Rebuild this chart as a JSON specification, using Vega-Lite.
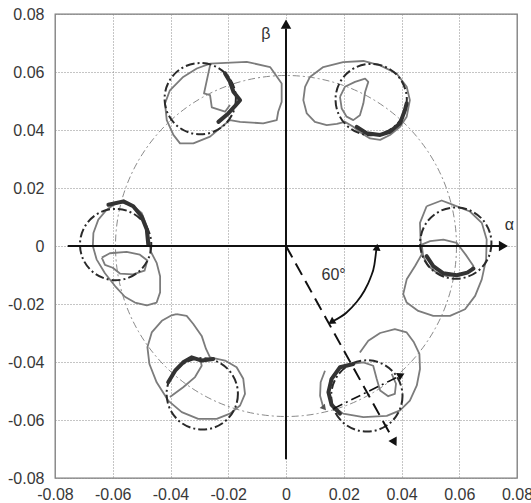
{
  "$schema": "https://vega.github.io/schema/vega-lite/v6.json",
  "width": 462,
  "height": 464,
  "autosize": "none",
  "padding": {"left": 55, "top": 14, "right": 14, "bottom": 25},
  "background": "white",
  "config": {
    "view": {"stroke": "#7a7a7a", "strokeWidth": 1.3},
    "axis": {"domain": false, "ticks": false, "grid": true, "gridDash": [1, 2], "gridColor": "#8a8a8a", "gridWidth": 1, "labelFont": "Liberation Sans", "labelFontSize": 16, "labelColor": "#383838"}
  },
  "datasets": {
    "traces": [
      {"g":"TLo","k":"o","i":1,"x":-0.0263,"y":0.0629},{"g":"TLo","k":"o","i":2,"x":-0.0136,"y":0.0635},{"g":"TLo","k":"o","i":3,"x":-0.0055,"y":0.0617},{"g":"TLo","k":"o","i":4,"x":-0.0015,"y":0.056},{"g":"TLo","k":"o","i":5,"x":-0.0015,"y":0.0497},{"g":"TLo","k":"o","i":6,"x":-0.0027,"y":0.0463},{"g":"TLo","k":"o","i":7,"x":-0.0032,"y":0.0434},{"g":"TLo","k":"o","i":8,"x":-0.0079,"y":0.0423},{"g":"TLo","k":"o","i":9,"x":-0.0159,"y":0.0428},{"g":"TLo","k":"o","i":10,"x":-0.0194,"y":0.0434},{"g":"TLo","k":"o","i":11,"x":-0.0223,"y":0.0411},{"g":"TLo","k":"o","i":12,"x":-0.0263,"y":0.0377},{"g":"TLo","k":"o","i":13,"x":-0.0321,"y":0.0354},{"g":"TLo","k":"o","i":14,"x":-0.0367,"y":0.0354},{"g":"TLo","k":"o","i":15,"x":-0.039,"y":0.0383},{"g":"TLo","k":"o","i":16,"x":-0.0413,"y":0.0434},{"g":"TLo","k":"o","i":17,"x":-0.0419,"y":0.0492},{"g":"TLo","k":"o","i":18,"x":-0.0402,"y":0.0537},{"g":"TLo","k":"o","i":19,"x":-0.0356,"y":0.0583},{"g":"TLo","k":"o","i":20,"x":-0.0309,"y":0.0612},{"g":"TLo","k":"o","i":21,"x":-0.0263,"y":0.0629},
      {"g":"TLi","k":"o","i":1,"x":-0.0263,"y":0.0623},{"g":"TLi","k":"o","i":2,"x":-0.0284,"y":0.0526},{"g":"TLi","k":"o","i":3,"x":-0.0263,"y":0.052},{"g":"TLi","k":"o","i":4,"x":-0.0257,"y":0.0478},{"g":"TLi","k":"o","i":5,"x":-0.0211,"y":0.0463},{"g":"TLi","k":"o","i":6,"x":-0.0194,"y":0.0486},
      {"g":"TLd","k":"d","i":1,"x":-0.0211,"y":0.0595},{"g":"TLd","k":"d","i":2,"x":-0.0194,"y":0.0566},{"g":"TLd","k":"d","i":3,"x":-0.0182,"y":0.0532},{"g":"TLd","k":"d","i":4,"x":-0.0159,"y":0.0503},{"g":"TLd","k":"d","i":5,"x":-0.0177,"y":0.0482},{"g":"TLd","k":"d","i":6,"x":-0.02,"y":0.0457},{"g":"TLd","k":"d","i":7,"x":-0.0234,"y":0.0428},
      {"g":"TRo","k":"o","i":1,"x":0.0083,"y":0.0583},{"g":"TRo","k":"o","i":2,"x":0.0129,"y":0.0617},{"g":"TRo","k":"o","i":3,"x":0.0198,"y":0.0634},{"g":"TRo","k":"o","i":4,"x":0.0268,"y":0.0638},{"g":"TRo","k":"o","i":5,"x":0.0326,"y":0.0623},{"g":"TRo","k":"o","i":6,"x":0.0383,"y":0.0595},{"g":"TRo","k":"o","i":7,"x":0.0418,"y":0.0549},{"g":"TRo","k":"o","i":8,"x":0.0429,"y":0.0503},{"g":"TRo","k":"o","i":9,"x":0.0418,"y":0.0446},{"g":"TRo","k":"o","i":10,"x":0.0395,"y":0.0411},{"g":"TRo","k":"o","i":11,"x":0.036,"y":0.0383},{"g":"TRo","k":"o","i":12,"x":0.0326,"y":0.0366},{"g":"TRo","k":"o","i":13,"x":0.0291,"y":0.0371},{"g":"TRo","k":"o","i":14,"x":0.0262,"y":0.0389},{"g":"TRo","k":"o","i":15,"x":0.0233,"y":0.0411},{"g":"TRo","k":"o","i":16,"x":0.0204,"y":0.0428},{"g":"TRo","k":"o","i":17,"x":0.0176,"y":0.0421},{"g":"TRo","k":"o","i":18,"x":0.0141,"y":0.0417},{"g":"TRo","k":"o","i":19,"x":0.01,"y":0.0428},{"g":"TRo","k":"o","i":20,"x":0.0072,"y":0.0457},{"g":"TRo","k":"o","i":21,"x":0.006,"y":0.0503},{"g":"TRo","k":"o","i":22,"x":0.0066,"y":0.0549},{"g":"TRo","k":"o","i":23,"x":0.0083,"y":0.0583},
      {"g":"TRi","k":"o","i":1,"x":0.0187,"y":0.0514},{"g":"TRi","k":"o","i":2,"x":0.0204,"y":0.0549},{"g":"TRi","k":"o","i":3,"x":0.0239,"y":0.0566},{"g":"TRi","k":"o","i":4,"x":0.0274,"y":0.0577},{"g":"TRi","k":"o","i":5,"x":0.0285,"y":0.0566},{"g":"TRi","k":"o","i":6,"x":0.0274,"y":0.0531},{"g":"TRi","k":"o","i":7,"x":0.0268,"y":0.0492},{"g":"TRi","k":"o","i":8,"x":0.0256,"y":0.0451},{"g":"TRi","k":"o","i":9,"x":0.0233,"y":0.0434},{"g":"TRi","k":"o","i":10,"x":0.021,"y":0.0446},{"g":"TRi","k":"o","i":11,"x":0.0193,"y":0.0474},{"g":"TRi","k":"o","i":12,"x":0.0187,"y":0.0514},
      {"g":"TRd","k":"d","i":1,"x":0.0245,"y":0.0411},{"g":"TRd","k":"d","i":2,"x":0.0279,"y":0.0389},{"g":"TRd","k":"d","i":3,"x":0.0326,"y":0.0383},{"g":"TRd","k":"d","i":4,"x":0.036,"y":0.0394},{"g":"TRd","k":"d","i":5,"x":0.0395,"y":0.0423},{"g":"TRd","k":"d","i":6,"x":0.0412,"y":0.0469},{"g":"TRd","k":"d","i":7,"x":0.0418,"y":0.0492},
      {"g":"Lo","k":"o","i":1,"x":-0.0569,"y":0.015},{"g":"Lo","k":"o","i":2,"x":-0.0534,"y":0.0142},{"g":"Lo","k":"o","i":3,"x":-0.05,"y":0.0114},{"g":"Lo","k":"o","i":4,"x":-0.0482,"y":0.0068},{"g":"Lo","k":"o","i":5,"x":-0.0473,"y":0.0016},{"g":"Lo","k":"o","i":6,"x":-0.0469,"y":-0.0018},{"g":"Lo","k":"o","i":7,"x":-0.0448,"y":-0.0058},{"g":"Lo","k":"o","i":8,"x":-0.0436,"y":-0.0104},{"g":"Lo","k":"o","i":9,"x":-0.0436,"y":-0.016},{"g":"Lo","k":"o","i":10,"x":-0.0448,"y":-0.0195},{"g":"Lo","k":"o","i":11,"x":-0.0482,"y":-0.0205},{"g":"Lo","k":"o","i":12,"x":-0.0523,"y":-0.0195},{"g":"Lo","k":"o","i":13,"x":-0.0558,"y":-0.0175},{"g":"Lo","k":"o","i":14,"x":-0.0592,"y":-0.0138},{"g":"Lo","k":"o","i":15,"x":-0.0627,"y":-0.0094},{"g":"Lo","k":"o","i":16,"x":-0.0656,"y":-0.0046},{"g":"Lo","k":"o","i":17,"x":-0.0669,"y":0},{"g":"Lo","k":"o","i":18,"x":-0.0667,"y":0.0045},{"g":"Lo","k":"o","i":19,"x":-0.065,"y":0.0091},{"g":"Lo","k":"o","i":20,"x":-0.0621,"y":0.0125},{"g":"Lo","k":"o","i":21,"x":-0.0592,"y":0.0146},{"g":"Lo","k":"o","i":22,"x":-0.0569,"y":0.015},
      {"g":"Li","k":"o","i":1,"x":-0.0638,"y":-0.004},{"g":"Li","k":"o","i":2,"x":-0.061,"y":-0.0025},{"g":"Li","k":"o","i":3,"x":-0.0552,"y":-0.002},{"g":"Li","k":"o","i":4,"x":-0.0506,"y":-0.003},{"g":"Li","k":"o","i":5,"x":-0.048,"y":-0.005},{"g":"Li","k":"o","i":6,"x":-0.049,"y":-0.0085},{"g":"Li","k":"o","i":7,"x":-0.053,"y":-0.0098},{"g":"Li","k":"o","i":8,"x":-0.0575,"y":-0.0095},{"g":"Li","k":"o","i":9,"x":-0.06,"y":-0.0075},{"g":"Li","k":"o","i":10,"x":-0.0627,"y":-0.0065},{"g":"Li","k":"o","i":11,"x":-0.0638,"y":-0.004},
      {"g":"Ld","k":"d","i":1,"x":-0.0615,"y":0.0142},{"g":"Ld","k":"d","i":2,"x":-0.0563,"y":0.0154},{"g":"Ld","k":"d","i":3,"x":-0.0529,"y":0.0137},{"g":"Ld","k":"d","i":4,"x":-0.05,"y":0.0102},{"g":"Ld","k":"d","i":5,"x":-0.0482,"y":0.0057},{"g":"Ld","k":"d","i":6,"x":-0.0477,"y":0.0005},
      {"g":"Ro","k":"o","i":1,"x":0.0487,"y":0.0137},{"g":"Ro","k":"o","i":2,"x":0.0539,"y":0.0157},{"g":"Ro","k":"o","i":3,"x":0.0579,"y":0.0142},{"g":"Ro","k":"o","i":4,"x":0.0637,"y":0.0119},{"g":"Ro","k":"o","i":5,"x":0.0678,"y":0.008},{"g":"Ro","k":"o","i":6,"x":0.0695,"y":0.0022},{"g":"Ro","k":"o","i":7,"x":0.0693,"y":-0.0046},{"g":"Ro","k":"o","i":8,"x":0.0678,"y":-0.0115},{"g":"Ro","k":"o","i":9,"x":0.0655,"y":-0.0172},{"g":"Ro","k":"o","i":10,"x":0.062,"y":-0.0218},{"g":"Ro","k":"o","i":11,"x":0.0568,"y":-0.0241},{"g":"Ro","k":"o","i":12,"x":0.051,"y":-0.0241},{"g":"Ro","k":"o","i":13,"x":0.0458,"y":-0.0224},{"g":"Ro","k":"o","i":14,"x":0.0418,"y":-0.0195},{"g":"Ro","k":"o","i":15,"x":0.0406,"y":-0.0166},{"g":"Ro","k":"o","i":16,"x":0.0418,"y":-0.0115},{"g":"Ro","k":"o","i":17,"x":0.0447,"y":-0.0069},{"g":"Ro","k":"o","i":18,"x":0.047,"y":-0.0029},{"g":"Ro","k":"o","i":19,"x":0.0466,"y":0.0022},{"g":"Ro","k":"o","i":20,"x":0.0464,"y":0.008},{"g":"Ro","k":"o","i":21,"x":0.0487,"y":0.0137},
      {"g":"Ri","k":"o","i":1,"x":0.047,"y":0.0005},{"g":"Ri","k":"o","i":2,"x":0.0499,"y":0.0017},{"g":"Ri","k":"o","i":3,"x":0.0545,"y":0.0022},{"g":"Ri","k":"o","i":4,"x":0.0591,"y":0.0011},{"g":"Ri","k":"o","i":5,"x":0.0626,"y":-0.0035},{"g":"Ri","k":"o","i":6,"x":0.0649,"y":-0.0069},{"g":"Ri","k":"o","i":7,"x":0.0637,"y":-0.0087},{"g":"Ri","k":"o","i":8,"x":0.0603,"y":-0.0098},{"g":"Ri","k":"o","i":9,"x":0.0557,"y":-0.0104},{"g":"Ri","k":"o","i":10,"x":0.0522,"y":-0.0092},{"g":"Ri","k":"o","i":11,"x":0.0493,"y":-0.0069},{"g":"Ri","k":"o","i":12,"x":0.0475,"y":-0.0035},{"g":"Ri","k":"o","i":13,"x":0.047,"y":0.0005},
      {"g":"Rd","k":"d","i":1,"x":0.0487,"y":-0.0035},{"g":"Rd","k":"d","i":2,"x":0.051,"y":-0.0069},{"g":"Rd","k":"d","i":3,"x":0.0545,"y":-0.0094},{"g":"Rd","k":"d","i":4,"x":0.0591,"y":-0.0101},{"g":"Rd","k":"d","i":5,"x":0.0628,"y":-0.0092},{"g":"Rd","k":"d","i":6,"x":0.0649,"y":-0.0078},
      {"g":"BLo","k":"o","i":1,"x":-0.0379,"y":-0.0235},{"g":"BLo","k":"o","i":2,"x":-0.0344,"y":-0.0241},{"g":"BLo","k":"o","i":3,"x":-0.0321,"y":-0.0269},{"g":"BLo","k":"o","i":4,"x":-0.0292,"y":-0.031},{"g":"BLo","k":"o","i":5,"x":-0.0277,"y":-0.0355},{"g":"BLo","k":"o","i":6,"x":-0.0263,"y":-0.0384},{"g":"BLo","k":"o","i":7,"x":-0.0211,"y":-0.0395},{"g":"BLo","k":"o","i":8,"x":-0.0171,"y":-0.0418},{"g":"BLo","k":"o","i":9,"x":-0.0148,"y":-0.0458},{"g":"BLo","k":"o","i":10,"x":-0.0142,"y":-0.051},{"g":"BLo","k":"o","i":11,"x":-0.0159,"y":-0.055},{"g":"BLo","k":"o","i":12,"x":-0.0194,"y":-0.0578},{"g":"BLo","k":"o","i":13,"x":-0.024,"y":-0.0596},{"g":"BLo","k":"o","i":14,"x":-0.0304,"y":-0.0596},{"g":"BLo","k":"o","i":15,"x":-0.0361,"y":-0.0573},{"g":"BLo","k":"o","i":16,"x":-0.0408,"y":-0.0533},{"g":"BLo","k":"o","i":17,"x":-0.0448,"y":-0.047},{"g":"BLo","k":"o","i":18,"x":-0.0473,"y":-0.0407},{"g":"BLo","k":"o","i":19,"x":-0.048,"y":-0.0349},{"g":"BLo","k":"o","i":20,"x":-0.0465,"y":-0.0298},{"g":"BLo","k":"o","i":21,"x":-0.043,"y":-0.0258},{"g":"BLo","k":"o","i":22,"x":-0.0396,"y":-0.0239},{"g":"BLo","k":"o","i":23,"x":-0.0379,"y":-0.0235},
      {"g":"BLi","k":"o","i":1,"x":-0.0402,"y":-0.0521},{"g":"BLi","k":"o","i":2,"x":-0.0356,"y":-0.0487},{"g":"BLi","k":"o","i":3,"x":-0.0315,"y":-0.0452},{"g":"BLi","k":"o","i":4,"x":-0.0292,"y":-0.0413},{"g":"BLi","k":"o","i":5,"x":-0.0298,"y":-0.0384},
      {"g":"BLd","k":"d","i":1,"x":-0.0408,"y":-0.047},{"g":"BLd","k":"d","i":2,"x":-0.0384,"y":-0.043},{"g":"BLd","k":"d","i":3,"x":-0.0356,"y":-0.0401},{"g":"BLd","k":"d","i":4,"x":-0.0327,"y":-0.0384},{"g":"BLd","k":"d","i":5,"x":-0.0292,"y":-0.0395},{"g":"BLd","k":"d","i":6,"x":-0.0252,"y":-0.039},
      {"g":"BRo","k":"o","i":1,"x":0.0256,"y":-0.0367},{"g":"BRo","k":"o","i":2,"x":0.0285,"y":-0.0327},{"g":"BRo","k":"o","i":3,"x":0.0326,"y":-0.03},{"g":"BRo","k":"o","i":4,"x":0.0377,"y":-0.0287},{"g":"BRo","k":"o","i":5,"x":0.0418,"y":-0.0298},{"g":"BRo","k":"o","i":6,"x":0.0443,"y":-0.0332},{"g":"BRo","k":"o","i":7,"x":0.0462,"y":-0.0372},{"g":"BRo","k":"o","i":8,"x":0.0464,"y":-0.0424},{"g":"BRo","k":"o","i":9,"x":0.0453,"y":-0.0481},{"g":"BRo","k":"o","i":10,"x":0.0429,"y":-0.0533},{"g":"BRo","k":"o","i":11,"x":0.0395,"y":-0.0567},{"g":"BRo","k":"o","i":12,"x":0.0349,"y":-0.0586},{"g":"BRo","k":"o","i":13,"x":0.0268,"y":-0.059},{"g":"BRo","k":"o","i":14,"x":0.0198,"y":-0.0578},{"g":"BRo","k":"o","i":15,"x":0.0158,"y":-0.0548},{"g":"BRo","k":"o","i":16,"x":0.0147,"y":-0.0504},{"g":"BRo","k":"o","i":17,"x":0.0155,"y":-0.0458},{"g":"BRo","k":"o","i":18,"x":0.0181,"y":-0.0424},{"g":"BRo","k":"o","i":19,"x":0.0222,"y":-0.0407},{"g":"BRo","k":"o","i":20,"x":0.0268,"y":-0.0401},{"g":"BRo","k":"o","i":21,"x":0.0302,"y":-0.0413},{"g":"BRo","k":"o","i":22,"x":0.0314,"y":-0.0458},{"g":"BRo","k":"o","i":23,"x":0.0326,"y":-0.0498},{"g":"BRo","k":"o","i":24,"x":0.0354,"y":-0.0518},{"g":"BRo","k":"o","i":25,"x":0.0377,"y":-0.051},{"g":"BRo","k":"o","i":26,"x":0.0381,"y":-0.0475},{"g":"BRo","k":"o","i":27,"x":0.0366,"y":-0.0441},
      {"g":"BRd","k":"d","i":1,"x":0.0233,"y":-0.0407},{"g":"BRd","k":"d","i":2,"x":0.0187,"y":-0.0418},{"g":"BRd","k":"d","i":3,"x":0.0158,"y":-0.0458},{"g":"BRd","k":"d","i":4,"x":0.0147,"y":-0.0504},{"g":"BRd","k":"d","i":5,"x":0.0158,"y":-0.0548},{"g":"BRd","k":"d","i":6,"x":0.0187,"y":-0.0578},
      {"g":"BRa","k":"o","i":1,"x":0.0135,"y":-0.043},{"g":"BRa","k":"o","i":2,"x":0.012,"y":-0.047},{"g":"BRa","k":"o","i":3,"x":0.0118,"y":-0.0516},{"g":"BRa","k":"o","i":4,"x":0.0129,"y":-0.0556}
    ],
    "guides": [
      {"g":"dash60","i":1,"x":0,"y":0},{"g":"dash60","i":2,"x":0.0368,"y":-0.0662},
      {"g":"arc","i":1,"x":0.0313,"y":-0.0012},{"g":"arc","i":2,"x":0.0306,"y":-0.0065},{"g":"arc","i":3,"x":0.0292,"y":-0.0111},{"g":"arc","i":4,"x":0.0271,"y":-0.0155},{"g":"arc","i":5,"x":0.0243,"y":-0.0195},{"g":"arc","i":6,"x":0.0209,"y":-0.023},{"g":"arc","i":7,"x":0.0165,"y":-0.0258},
      {"g":"dd30","i":1,"x":0.0164,"y":-0.0561},{"g":"dd30","i":2,"x":0.0392,"y":-0.0449}
    ]
  },
  "encoding": {
    "x": {"field": "x", "type": "quantitative", "scale": {"domain": [-0.08, 0.08], "nice": false, "zero": false},
      "axis": {"title": null, "values": [-0.08, -0.06, -0.04, -0.02, 0, 0.02, 0.04, 0.06, 0.08], "labelFlush": false, "labelOverlap": false, "labelPadding": 8,
        "labelExpr": "datum.value == 0 ? '0' : (datum.value < 0 ? '-' : '') + format(abs(datum.value), '.2f')"}},
    "y": {"field": "y", "type": "quantitative", "scale": {"domain": [-0.08, 0.08], "nice": false, "zero": false},
      "axis": {"title": null, "values": [-0.08, -0.06, -0.04, -0.02, 0, 0.02, 0.04, 0.06, 0.08], "labelFlush": false, "labelOverlap": false, "labelPadding": 11,
        "labelExpr": "datum.value == 0 ? '0' : (datum.value < 0 ? '-' : '') + format(abs(datum.value), '.2f')"}}
  },
  "layer": [
    {"data": {"values": [{"x": 0, "y": 0}]},
     "mark": {"type": "point", "shape": "circle", "size": 116281, "filled": false, "stroke": "#8a8a8a", "strokeWidth": 1, "strokeDash": [7, 3, 2, 3], "opacity": 1}},
    {"data": {"name": "traces"}, "transform": [{"filter": "datum.k == 'o'"}],
     "mark": {"type": "line", "stroke": "#7c7c7c", "strokeWidth": 1.8, "strokeJoin": "round"},
     "encoding": {"detail": {"field": "g"}, "order": {"field": "i", "type": "quantitative"}}},
    {"data": {"values": [{"x": 0.0588, "y": 0.001}, {"x": 0.0295, "y": 0.0505}, {"x": -0.0297, "y": 0.0508}, {"x": -0.059, "y": 0.0005}, {"x": -0.029, "y": -0.051}, {"x": 0.028, "y": -0.0517}]},
     "mark": {"type": "point", "shape": "circle", "size": 5084, "filled": false, "stroke": "#2a2a2a", "strokeWidth": 2, "strokeDash": [9, 3, 2, 3], "opacity": 1}},
    {"data": {"name": "traces"}, "transform": [{"filter": "datum.k == 'd'"}],
     "mark": {"type": "line", "stroke": "#333333", "strokeWidth": 4, "strokeJoin": "round", "strokeCap": "round"},
     "encoding": {"detail": {"field": "g"}, "order": {"field": "i", "type": "quantitative"}}},
    {"data": {"values": [{"x": -0.0756, "y": 0, "x2": 0.0745, "y2": 0}, {"x": 0, "y": -0.0735, "x2": 0, "y2": 0.075}]},
     "mark": {"type": "rule", "color": "#111111", "strokeWidth": 2},
     "encoding": {"x2": {"field": "x2"}, "y2": {"field": "y2"}}},
    {"data": {"values": [{"x": 0.0753, "y": 0}]},
     "mark": {"type": "point", "shape": "triangle-right", "filled": true, "color": "#111111", "size": 110, "opacity": 1}},
    {"data": {"values": [{"x": 0, "y": 0.0765}]},
     "mark": {"type": "point", "shape": "triangle-up", "filled": true, "color": "#111111", "size": 110, "opacity": 1}},
    {"data": {"name": "guides"}, "transform": [{"filter": "datum.g == 'dash60'"}],
     "mark": {"type": "line", "stroke": "#111111", "strokeWidth": 2, "strokeDash": [13, 7]},
     "encoding": {"order": {"field": "i", "type": "quantitative"}}},
    {"data": {"values": [{"x": 0.0376, "y": -0.0677}]},
     "mark": {"type": "point", "shape": "triangle-down", "angle": -29, "filled": true, "color": "#111111", "size": 90, "opacity": 1}},
    {"data": {"name": "guides"}, "transform": [{"filter": "datum.g == 'arc'"}],
     "mark": {"type": "line", "stroke": "#111111", "strokeWidth": 1.8, "interpolate": "monotone"},
     "encoding": {"order": {"field": "i", "type": "quantitative"}}},
    {"data": {"values": [{"x": 0.0315, "y": -0.0004}]},
     "mark": {"type": "point", "shape": "triangle-up", "angle": 6, "filled": true, "color": "#111111", "size": 65, "opacity": 1}},
    {"data": {"values": [{"x": 0.0157, "y": -0.0262}]},
     "mark": {"type": "point", "shape": "triangle-left", "angle": -33, "filled": true, "color": "#111111", "size": 65, "opacity": 1}},
    {"data": {"name": "guides"}, "transform": [{"filter": "datum.g == 'dd30'"}],
     "mark": {"type": "line", "stroke": "#111111", "strokeWidth": 1.6, "strokeDash": [10, 4, 2, 4]},
     "encoding": {"order": {"field": "i", "type": "quantitative"}}},
    {"data": {"values": [{"x": 0.0399, "y": -0.0445}]},
     "mark": {"type": "point", "shape": "triangle-right", "angle": -27, "filled": true, "color": "#111111", "size": 70, "opacity": 1}},
    {"data": {"values": [{"x": 0.0132, "y": -0.0559}]},
     "mark": {"type": "point", "shape": "triangle-down", "angle": -40, "filled": true, "color": "#555555", "size": 45, "opacity": 1}},
    {"data": {"values": [{"x": 0.0774, "y": 0.0071, "t": "α"}, {"x": -0.007, "y": 0.0731, "t": "β"}, {"x": 0.0165, "y": -0.0101, "t": "60°"}]},
     "mark": {"type": "text", "font": "Liberation Sans", "fontSize": 16, "color": "#333333"},
     "encoding": {"text": {"field": "t"}}}
  ]
}
